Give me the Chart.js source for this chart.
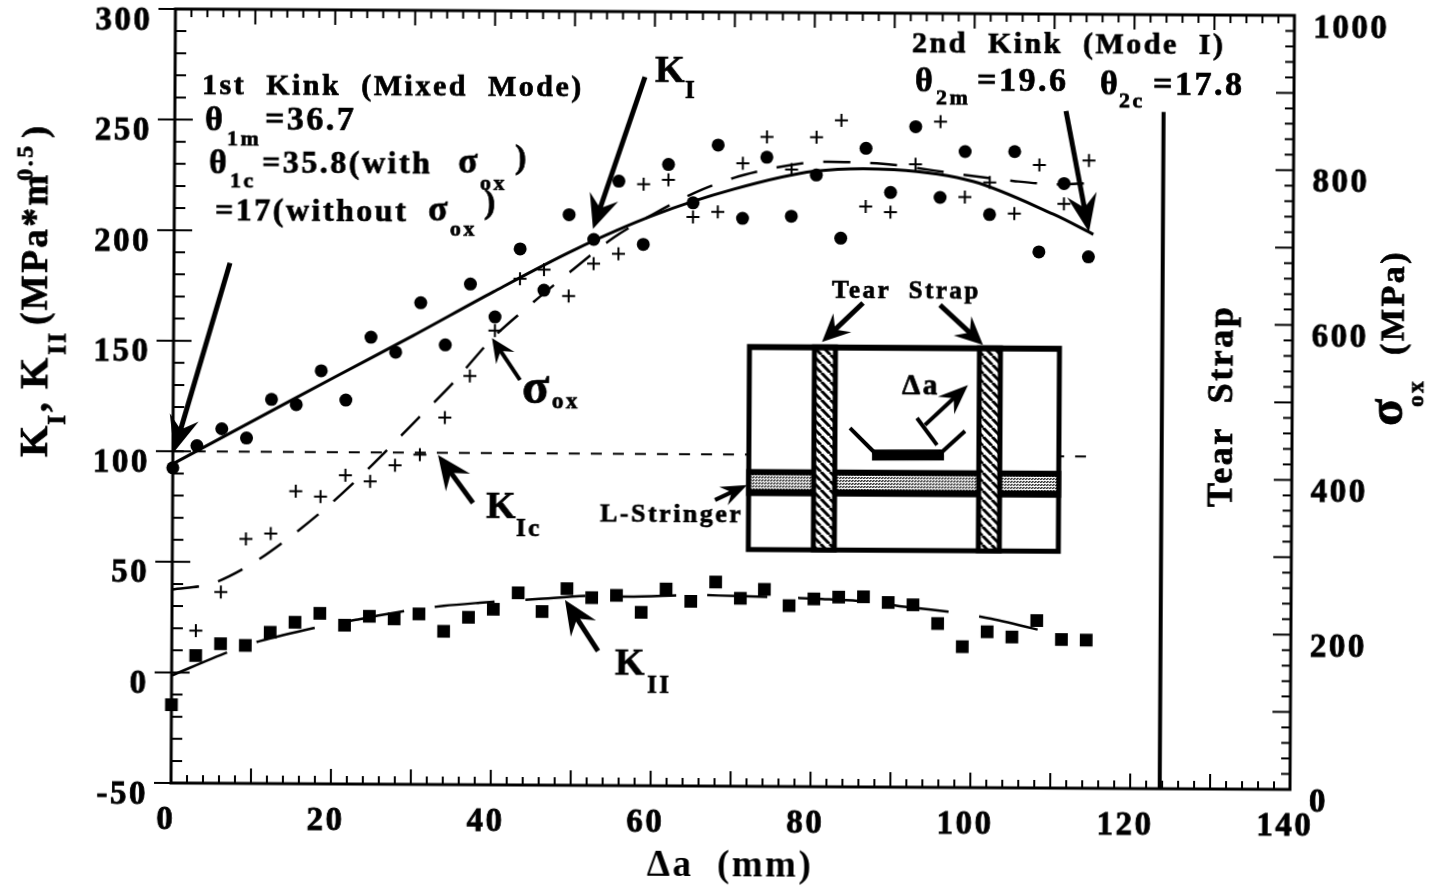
<!DOCTYPE html>
<html>
<head>
<meta charset="utf-8">
<title>KI, KII and sigma ox against crack growth</title>
<script src="https://cdn.jsdelivr.net/npm/chart.js@4/dist/chart.umd.min.js"></script>
<style>
  html, body { margin: 0; background: #fff; overflow: hidden; }
  /* the scan sits about a third of a degree off square */
  #chart { position: absolute; left: 0; top: 0; transform-origin: 171px 783px; transform: rotate(0.33deg); }
</style>
</head>
<body>
<canvas id="chart" width="1437" height="890"></canvas>
<script>
const crackLength = [0, 3, 6.1, 9.2, 12.3, 15.4, 18.5, 21.6, 24.7, 27.8, 30.9, 34, 37.1, 40.2, 43.3, 46.3, 49.4, 52.5, 55.6, 58.7,
  61.8, 64.9, 68, 71.1, 74.1, 77.2, 80.3, 83.4, 86.5, 89.6, 92.7, 95.8, 98.9, 102, 105.1, 108.2, 111.3, 114.4];
const kIValues = [92.5, 102.6, 110.3, 106.2, 123.7, 121.4, 136.8, 123.6, 152.1, 145.4, 167.8, 148.8, 176.4, 161.6, 192.4, 173.8, 208, 196.9, 223.3, 194.8,
  231, 213.7, 239.9, 206.8, 234.5, 207.9, 226.6, 198.1, 238.8, 218.9, 248.7, 216.8, 237.6, 209.2, 237.7, 192.4, 223.4, 190.3];
const kIIValues = [-14.6, 7.7, 13.1, 12.4, 18.4, 23, 27.1, 21.8, 25.9, 24.8, 27.1, 19.3, 25.7, 29.4, 36.9, 28.5, 38.9, 34.9, 36, 28.4,
  39, 33.5, 42.3, 35, 39.1, 31.8, 34.9, 35.8, 36, 33.5, 32.5, 24.1, 13.7, 20.5, 18.2, 25.7, 17.2, 17];
const sigmaValues = [null, 197, 247, 316, 323, 378, 371, 399, 391, 412, 426, 474, 528, 587, 654, 666, 632, 674, 687, 777,
  783, 735, 742, 805, 839, 797, 839, 861, 750, 743, 805, 860, 763, 782, 742, 805, 755, 811];

const kIFitX = [0, 10, 20, 30, 40, 50, 60, 70, 80, 90, 100, 110, 115];
const kIFitY = [94.3, 114, 133.6, 153, 173, 192, 208, 220, 228.3, 229.2, 224, 209.5, 200.5];
const kIIFitX = [0, 7, 11, 19, 23, 30, 34, 38.5, 41.7, 45.5, 52.7, 57, 65.4, 68.4, 75.8, 81.3, 87, 91, 98.3, 102.5, 110];
const kIIFitY = [-1.4, 9.3, 14.4, 21.5, 24.3, 28.9, 30.8, 32.3, 33.2, 34.1, 35.8, 35.5, 36.4, 36.2, 35.6, 34.9, 33.8, 31.9, 29, 26.4, 20.2];
const sigmaFitX = [0, 5, 10, 15, 20, 25, 30, 35, 40, 45, 50, 55, 60, 65, 70, 75, 80, 85, 90, 95, 100, 105, 110, 115];
const sigmaFitY = [250, 258, 284, 321, 364, 413, 466, 519, 578, 624, 667, 708, 739, 766, 786, 799, 807, 807, 804, 797, 790, 784, 780, 782];
const kIcX = [0, 115];
const kIcY = [100, 100];
const tearStrapX = [123.7, 123.7];
const tearStrapY = [-50, 256];

const xLabelTicks = [0, 20, 40, 60, 80, 100, 120, 140];
const yLabelTicks = [-50, 0, 50, 100, 150, 200, 250, 300];
const y2LabelTicks = [0, 200, 400, 600, 800, 1000];
const xTickStep = 2, xMajorStep = 10;
const yTickStep = 10, yMajorStep = 50;
const y2TickStep = 20, y2MajorStep = 100;

const SERIF = '"Liberation Serif", "Times New Roman", serif';
const ROTATION = 0.33 * Math.PI / 180;

// reference pixel -> canvas pixel, undoes the css rotation
function toLocal(x, y) {
  const dx = x - 171, dy = y - 783;
  return [171 + dx * Math.cos(ROTATION) + dy * Math.sin(ROTATION), 783 - dx * Math.sin(ROTATION) + dy * Math.cos(ROTATION)];
}

// text, x, baseline y, size
const notes = [
  ['1st  Kink  (Mixed  Mode)', 202, 94, 30],
  ['θ', 205, 130, 34], ['1m', 227, 145, 22], ['=36.7', 265, 130, 34],
  ['θ', 209, 173, 34], ['1c', 230, 187, 22], ['=35.8(with', 262, 173, 32], ['σ', 458, 173, 36], ['ox', 480, 190, 22], [')', 515, 168, 34],
  ['=17(without', 215, 220, 32], ['σ', 428, 220, 36], ['ox', 450, 236, 22], [')', 484, 213, 34],
  ['K', 655, 82, 38], ['I', 685, 98, 25],
  ['2nd  Kink  (Mode  I)', 912, 52, 30],
  ['θ', 915, 91, 34], ['2m', 936, 104, 22], ['=19.6', 977, 91, 34],
  ['θ', 1100, 94, 34], ['2c', 1119, 107, 22], ['=17.8', 1153, 95, 34],
  ['σ', 522, 403, 50], ['ox', 552, 408, 23],
  ['K', 486, 518, 38], ['Ic', 516, 536, 25],
  ['K', 615, 675, 38], ['II', 647, 693, 25],
  ['Tear  Strap', 832, 298, 25],
  ['Δa', 902, 394, 29],
  ['L-Stringer', 600, 521, 26]
];
// text, baseline x, start y, size; these read bottom to top
const sideNotes = [
  ['K', 47, 457, 40], ['I', 65, 425, 25], [',', 47, 412, 38],
  ['K', 47, 389, 40], ['II', 65, 355, 25],
  ['(MPa*m', 47, 325, 37], ['0.5', 32, 181, 24], [')', 47, 138, 36],
  ['σ', 1402, 426, 50], ['ox', 1423, 407, 23], ['(MPa)', 1403, 355, 34],
  ['Tear  Strap', 1232, 507, 36]
];
// tail x, tail y, tip x, tip y, shaft width, head length, head half width
const arrows = [
  [230, 263, 174, 452, 5, 36, 15],
  [645, 77, 593, 229, 5, 34, 15],
  [1066, 111, 1089, 232, 5, 38, 15],
  [520, 380, 492, 338, 4, 24, 11],
  [473, 503, 438, 455, 5, 34, 15],
  [598, 651, 565, 600, 5, 34, 15],
  [863, 303, 822, 342, 5, 28, 13],
  [940, 305, 983, 345, 5, 28, 13],
  [715, 500, 747, 485, 4, 26, 10],
  [925, 425, 968, 385, 4, 30, 12]
];

function makePattern(ctx, size, paint) {
  const tile = document.createElement('canvas');
  tile.width = size;
  tile.height = size;
  paint(tile.getContext('2d'));
  return ctx.createPattern(tile, 'repeat');
}

function drawArrow(ctx, [x1, y1, x2, y2, width, headLen, headHalf]) {
  const [ax, ay] = toLocal(x1, y1);
  const [bx, by] = toLocal(x2, y2);
  const len = Math.hypot(bx - ax, by - ay);
  const ux = (bx - ax) / len, uy = (by - ay) / len;
  const nx = -uy, ny = ux;
  ctx.beginPath();
  ctx.moveTo(ax, ay);
  ctx.lineTo(bx - ux * headLen * 0.6, by - uy * headLen * 0.6);
  ctx.lineWidth = width;
  ctx.strokeStyle = '#000';
  ctx.stroke();
  ctx.beginPath();
  ctx.moveTo(bx, by);
  ctx.lineTo(bx - ux * headLen + nx * headHalf, by - uy * headLen + ny * headHalf);
  ctx.lineTo(bx - ux * headLen * 0.65, by - uy * headLen * 0.65);
  ctx.lineTo(bx - ux * headLen - nx * headHalf, by - uy * headLen - ny * headHalf);
  ctx.closePath();
  ctx.fillStyle = '#000';
  ctx.fill();
}

function drawInset(ctx) {
  const hatch = makePattern(ctx, 9, (t) => {
    t.fillStyle = '#fff';
    t.fillRect(0, 0, 9, 9);
    t.strokeStyle = '#000';
    t.lineWidth = 3;
    for (let i = -9; i <= 9; i += 9) {
      t.beginPath();
      t.moveTo(i, 0);
      t.lineTo(i + 9, 9);
      t.stroke();
    }
  });
  const stipple = makePattern(ctx, 3, (t) => {
    t.fillStyle = '#fff';
    t.fillRect(0, 0, 3, 3);
    t.fillStyle = '#333';
    t.fillRect(0, 0, 2, 1);
    t.fillRect(1, 2, 2, 1);
  });
  const [ox, oy] = toLocal(747, 344);
  const rect = (x, y, w, h, fill) => {
    ctx.fillStyle = fill;
    ctx.fillRect(ox + x, oy + y, w, h);
  };
  // sheet outline
  rect(0, 0, 315, 208, '#000');
  rect(5, 6, 305, 197, '#fff');
  // stringer
  rect(0, 125, 315, 27, '#000');
  rect(5, 131, 305, 14, stipple);
  // tear straps
  [65, 230].forEach((x) => {
    rect(x, 0, 26, 208, '#000');
    rect(x + 5, 6, 16, 197, hatch);
  });
  // crack
  const line = (pts, width) => {
    ctx.beginPath();
    pts.forEach(([x, y], i) => {
      const [lx, ly] = toLocal(x, y);
      if (i) ctx.lineTo(lx, ly); else ctx.moveTo(lx, ly);
    });
    ctx.lineWidth = width;
    ctx.strokeStyle = '#000';
    ctx.stroke();
  };
  line([[850, 428], [874, 452]], 4);
  line([[965, 431], [942, 452]], 4);
  line([[872, 455], [944, 455]], 11);
  line([[917, 418], [937, 445]], 4);
}

function drawTicks(ctx, chart) {
  const { x, y, y1 } = chart.scales;
  const area = chart.chartArea;
  ctx.strokeStyle = '#000';
  ctx.lineWidth = 2;
  ctx.beginPath();
  for (let v = 0; v <= 140; v += xTickStep) {
    const px = x.getPixelForValue(v);
    const len = v % xMajorStep === 0 ? 15 : 8;
    ctx.moveTo(px, area.bottom);
    ctx.lineTo(px, area.bottom - len);
    ctx.moveTo(px, area.top);
    ctx.lineTo(px, area.top + len);
  }
  for (let v = -50; v <= 300; v += yTickStep) {
    const py = y.getPixelForValue(v);
    const major = v % yMajorStep === 0;
    const inner = v === -50 || v === 300 ? 0 : (major ? 18 : 11);
    ctx.moveTo(area.left - (major ? 17 : 0), py);
    ctx.lineTo(area.left + inner, py);
  }
  for (let v = 0; v <= 1000; v += y2TickStep) {
    const py = y1.getPixelForValue(v);
    ctx.moveTo(area.right, py);
    ctx.lineTo(area.right - (v % y2MajorStep === 0 ? 18 : 9), py);
  }
  ctx.stroke();
  ctx.lineWidth = 3;
  ctx.strokeRect(area.left, area.top, area.right - area.left, area.bottom - area.top);
}

function heavyText(ctx, text, x, y) {
  ctx.fillText(text, x, y);
  ctx.strokeText(text, x, y);
}

const scanPlugin = {
  id: 'scan',
  beforeDraw(chart) {
    chart.ctx.letterSpacing = '2.5px';
  },
  afterDatasetsDraw(chart) {
    const ctx = chart.ctx;
    ctx.save();
    drawTicks(ctx, chart);
    drawInset(ctx);
    arrows.forEach((a) => drawArrow(ctx, a));
    ctx.fillStyle = '#000';
    ctx.strokeStyle = '#000';
    ctx.lineWidth = 0.7;
    ctx.textAlign = 'left';
    ctx.textBaseline = 'alphabetic';
    notes.forEach(([text, x, y, size]) => {
      const [lx, ly] = toLocal(x, y);
      ctx.font = `bold ${size}px ${SERIF}`;
      heavyText(ctx, text, lx, ly);
    });
    sideNotes.forEach(([text, x, y, size]) => {
      const [lx, ly] = toLocal(x, y);
      ctx.save();
      ctx.translate(lx, ly);
      ctx.rotate(-Math.PI / 2);
      ctx.font = `bold ${size}px ${SERIF}`;
      heavyText(ctx, text, 0, 0);
      ctx.restore();
    });
    ctx.restore();
  },
};

function points(xs, ys) {
  return xs.map((x, i) => ({ x, y: ys[i] }));
}

function markers(data, style, radius, yAxisID) {
  return {
    data,
    yAxisID,
    showLine: false,
    pointStyle: style,
    pointRadius: radius,
    pointBorderWidth: style === 'cross' ? 2 : 0,
    pointBackgroundColor: '#000',
    pointBorderColor: '#000',
    clip: false,
  };
}

function curve(data, width, dash, yAxisID) {
  return {
    data,
    yAxisID,
    showLine: true,
    pointRadius: 0,
    borderColor: '#000',
    borderWidth: width,
    borderDash: dash,
    tension: 0.3,
    clip: false,
  };
}

function tickOptions(padding, labelOffset) {
  return {
    color: '#000',
    font: { family: SERIF, size: 33, weight: 'bold' },
    textStrokeColor: '#000',
    textStrokeWidth: 0.8,
    padding,
    labelOffset,
    maxRotation: 0,
    autoSkip: false,
    callback: (value) => String(value),
  };
}

// keep the plot box where the reference has it, whatever the labels want
function fixBox(size) {
  return (scale) => {
    if (scale.isHorizontal()) scale.height = size; else scale.width = size;
    scale.paddingTop = 0;
    scale.paddingBottom = 0;
    scale.paddingLeft = 0;
    scale.paddingRight = 0;
  };
}

new Chart(document.getElementById('chart'), {
  type: 'scatter',
  data: {
    datasets: [
      markers(points(crackLength, kIValues), 'circle', 6.5, 'y'),
      markers(points(crackLength, kIIValues), 'rect', 9, 'y'),
      markers(points(crackLength, sigmaValues), 'cross', 6.5, 'y1'),
      curve(points(kIFitX, kIFitY), 3, [], 'y'),
      curve(points(kIIFitX, kIIFitY), 2.5, [60, 31], 'y'),
      curve(points(sigmaFitX, sigmaFitY), 2.5, [27, 20], 'y1'),
      curve(points(kIcX, kIcY), 2, [11, 11], 'y'),
      curve(points(tearStrapX, tearStrapY), 4, [], 'y'),
    ],
  },
  options: {
    responsive: false,
    animation: false,
    events: [],
    layout: { padding: { top: 8 } },
    plugins: { legend: { display: false }, title: { display: false }, tooltip: { enabled: false } },
    scales: {
      x: {
        type: 'linear',
        min: 0,
        max: 140,
        grid: { display: false, drawTicks: false },
        border: { display: false },
        afterBuildTicks: (scale) => { scale.ticks = xLabelTicks.map((value) => ({ value })); },
        afterFit: fixBox(107),
        ticks: tickOptions(18, -5),
        title: {
          display: true,
          text: 'Δa  (mm)',
          color: '#000',
          font: { family: SERIF, size: 37, weight: 'bold' },
          padding: { top: 0, bottom: 4 },
        },
      },
      y: {
        position: 'left',
        min: -50,
        max: 300,
        grid: { display: false, drawTicks: false },
        border: { display: false },
        afterBuildTicks: (scale) => { scale.ticks = yLabelTicks.map((value) => ({ value })); },
        afterFit: fixBox(171),
        ticks: tickOptions(23, 12),
      },
      y1: {
        position: 'right',
        min: 0,
        max: 1000,
        grid: { display: false, drawTicks: false },
        border: { display: false },
        afterBuildTicks: (scale) => { scale.ticks = y2LabelTicks.map((value) => ({ value })); },
        afterFit: fixBox(147),
        ticks: tickOptions(19, 13),
      },
    },
  },
  plugins: [scanPlugin],
});
</script>
</body>
</html>
